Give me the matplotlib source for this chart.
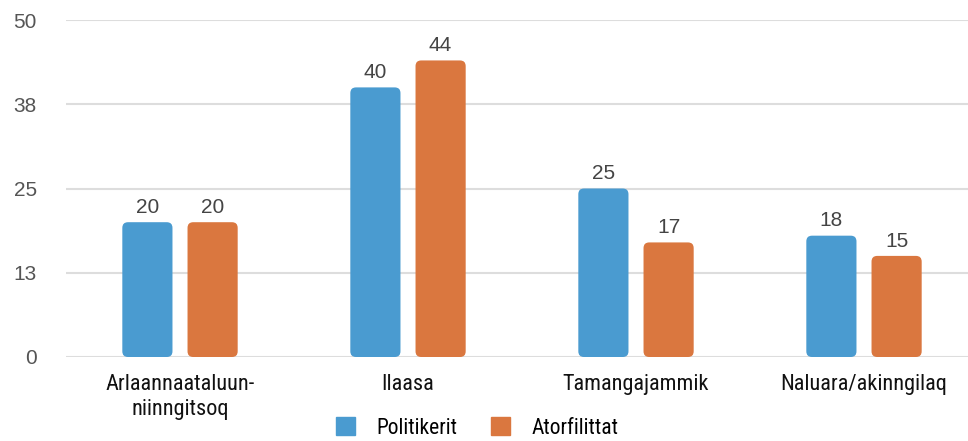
import numpy as np
import matplotlib
matplotlib.use("Agg")
import matplotlib.pyplot as plt
from matplotlib.patches import FancyBboxPatch, Patch

categories = ["Arlaannaataluun-\nniinngitsoq", "Ilaasa", "Tamangajammik", "Naluara/akinngilaq"]
politikerit = [20, 40, 25, 18]
atorfilittat = [20, 44, 17, 15]
series_names = ["Politikerit", "Atorfilittat"]
yticks = [0, 12.5, 25, 37.5, 50]
ytick_labels = ["0", "13", "25", "38", "50"]

blue = "#4A9BD0"
orange = "#DA773F"
narrow = ["Liberation Sans Narrow", "Roboto Condensed", "DejaVu Sans"]
plain = ["Liberation Sans", "DejaVu Sans"]

fig = plt.figure(figsize=(9.68, 4.41), dpi=100)
ax = fig.add_axes([66 / 968, 1 - 357 / 441, 912 / 968, 337 / 441])

x = np.arange(len(categories))
w = 0.22
off = 0.143
b1 = ax.bar(x - off, politikerit, w, color=blue)
b2 = ax.bar(x + off, atorfilittat, w, color=orange)

ax.set_xlim(-0.5, 3.5)
ax.set_ylim(0, 50)

# swap the square bars for rounded ones
aspect = (50 / 337) / (4 / 912)
for bars, vals in ((b1, politikerit), (b2, atorfilittat)):
    for b, v in zip(bars, vals):
        b.set_visible(False)
        p = FancyBboxPatch((b.get_x(), b.get_y()), b.get_width(), b.get_height(),
                           boxstyle="round,pad=0,rounding_size=0.025",
                           mutation_aspect=aspect, fc=b.get_facecolor(), ec="none", zorder=3)
        ax.add_patch(p)
        ax.text(b.get_x() + b.get_width() / 2, v + 0.8, str(v), ha="center", va="bottom",
                fontsize=15, family=plain, color="#444444")

ax.set_yticks(yticks)
ax.set_yticklabels(ytick_labels, fontsize=15, family=plain, color="#555555")
ax.grid(axis="y", color="#DDDDDD", lw=1.5, zorder=0)
ax.set_axisbelow(True)
ax.tick_params(axis="y", length=0, pad=21)
ax.tick_params(axis="x", length=0, pad=12)
ax.set_xticks(x)
ax.set_xticklabels(categories, fontsize=16, family=narrow, color="#111111", linespacing=1.3)
for s in ax.spines.values():
    s.set_visible(False)

handles = [Patch(color=blue), Patch(color=orange)]
leg = fig.legend(handles, series_names, loc="center", bbox_to_anchor=(0.493, 1 - 428 / 441),
                 ncol=2, frameon=False, prop={"family": narrow, "size": 15.5},
                 handlelength=0.9, handleheight=0.9, columnspacing=1.55, handletextpad=1.0)

fig.savefig("out.png", dpi=100)
